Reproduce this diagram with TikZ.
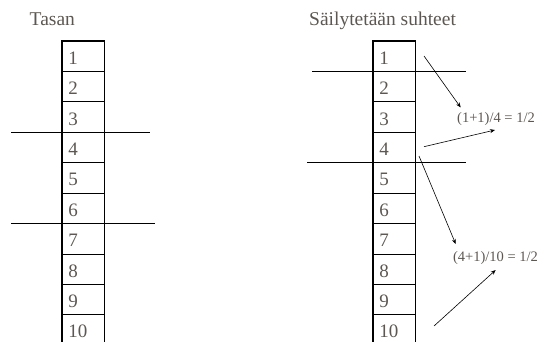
\documentclass[tikz,border=0pt]{standalone}
\usepackage{fontspec}
\setmainfont{Liberation Serif}
\usetikzlibrary{arrows.meta,positioning}
\definecolor{txt}{RGB}{92,87,82}
\begin{document}
\begin{tikzpicture}[x=1pt,y=-1pt,
  cell/.style={draw,line width=0.8pt,minimum width=41.5pt,minimum height=30.4pt,
    inner sep=0pt,text width=37.5pt,align=left,text height=16pt,text depth=0pt,
    font=\fontsize{19}{19}\selectfont,text=txt,anchor=north west},
  colframe/.style={line width=1.6pt},
  cut/.style={line width=0.8pt},
  title/.style={font=\fontsize{19.5}{20}\selectfont,text=txt,inner sep=0pt,anchor=base west},
  formula/.style={font=\fontsize{14.5}{15}\selectfont,text=txt,inner sep=1pt},
  arr/.style={line width=0.6pt,-{Stealth[length=5pt,width=4pt]}}]
\useasboundingbox (0,0) rectangle (548,342);
% titles
\node[title] (t1) at (29.5,26) {Tasan};
\node[title] (t2) at (309,25.5) {Säilytetään suhteet};
% columns
\foreach \i in {1,...,10}{
  \node[cell] (L\i) at (62,{40.7+30.4*(\i-1)}) {\hspace*{4pt}\i};
  \node[cell] (R\i) at (373,{40.7+30.4*(\i-1)}) {\hspace*{4pt}\i};
}
\draw[colframe] (L10.south west) -- (L1.north west) -- (L1.north east) -- (L10.south east);
\draw[colframe] (R10.south west) -- (R1.north west) -- (R1.north east) -- (R10.south east);
% cut lines
\coordinate (a1) at (11,131.9);  \coordinate (a2) at (150,131.9);
\coordinate (b1) at (11,223.1);  \coordinate (b2) at (155,223.1);
\coordinate (c1) at (312,71.1);  \coordinate (c2) at (466,71.1);
\coordinate (d1) at (307,162.3); \coordinate (d2) at (466,162.3);
\draw[cut] (a1) -- (a2);
\draw[cut] (b1) -- (b2);
\draw[cut] (c1) -- (c2);
\draw[cut] (d1) -- (d2);
% formulas
\node[formula] (f1) at (496,119.5) {(1+1)/4 = 1/2};
\node[formula] (f2) at (495.5,258) {(4+1)/10 = 1/2};
% arrows
\coordinate (s1) at (424,56);    \coordinate (e1) at (460.7,107.5);
\coordinate (s2) at (424,146.7); \coordinate (e2) at (495,130);
\coordinate (s3) at (419,156);   \coordinate (e3) at (455.7,244);
\coordinate (s4) at (434,326);   \coordinate (e4) at (495.7,270);
\draw[arr] (s1) -- (e1);
\draw[arr] (s2) -- (e2);
\draw[arr] (s3) -- (e3);
\draw[arr] (s4) -- (e4);
\end{tikzpicture}
\end{document}
